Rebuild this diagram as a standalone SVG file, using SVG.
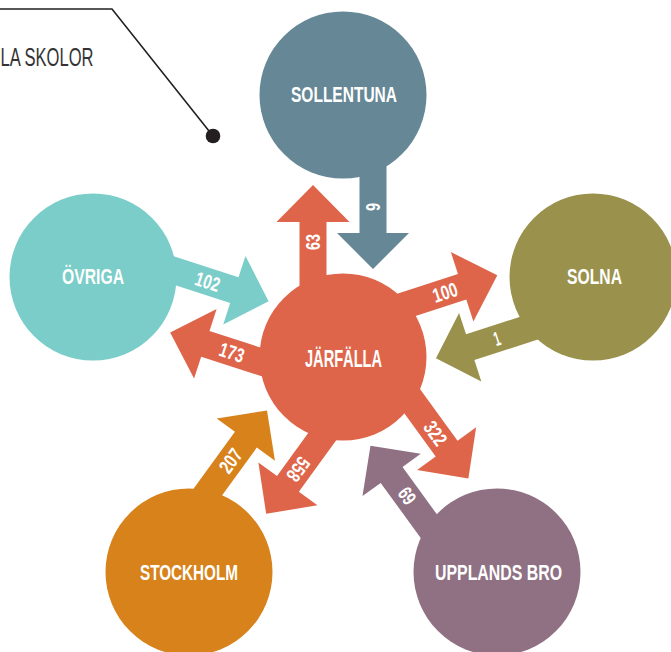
<svg xmlns="http://www.w3.org/2000/svg" xmlns:xlink="http://www.w3.org/1999/xlink" width="671" height="652" viewBox="0 0 671 652">
<style>
.lbl{font-family:"Liberation Sans",Arial,sans-serif;font-weight:bold;fill:#fff}
.node{font-size:22px}
.num{font-size:20px}
.note{font-family:"Liberation Sans",Arial,sans-serif;font-size:26px;fill:#333}
.j{fill:#de654a}
.sol{fill:#658796}
.ovr{fill:#7acdc8}
.sna{fill:#9a914c}
.sto{fill:#d7821b}
.upp{fill:#907183}
</style>
<defs>
<path id="out" d="M0,-43.5 H135 V-66.5 L172,-30 L135,6.5 V-16.5 H0 Z"/>
<path id="in" d="M88,30 L124,-6 V16.5 H235 V43.5 H124 V66 Z"/>
</defs>
<g id="note">
<polyline points="0,9 112,9 213,136" fill="none" stroke="#231f20" stroke-width="1.6"/>
<circle cx="213" cy="136" r="7.3" fill="#231f20"/>
<text class="note" x="0.5" y="66" textLength="93" lengthAdjust="spacingAndGlyphs">LA SKOLOR</text>
</g>
<g id="connectors">
<g transform="translate(343 357) rotate(-90)"><use xlink:href="#in" class="sol"/><use xlink:href="#out" class="j"/></g>
<g transform="translate(343 357) rotate(-18)"><use xlink:href="#in" class="sna"/><use xlink:href="#out" class="j"/></g>
<g transform="translate(343 357) rotate(-162)"><use xlink:href="#in" class="ovr"/><use xlink:href="#out" class="j"/></g>
<g transform="translate(343 357) rotate(126)"><use xlink:href="#in" class="sto"/><use xlink:href="#out" class="j"/></g>
<g transform="translate(343 357) rotate(54)"><use xlink:href="#in" class="upp"/><use xlink:href="#out" class="j"/></g>
<g class="lbl num">
<text transform="translate(313 242) rotate(-90)" x="-8" y="7.1" textLength="16" lengthAdjust="spacingAndGlyphs">63</text>
<text transform="translate(373 207) rotate(90)" x="-4" y="7.1" textLength="8" lengthAdjust="spacingAndGlyphs">6</text>
<text transform="translate(445 292.3) rotate(-18)" x="-12.5" y="7.1" textLength="25" lengthAdjust="spacingAndGlyphs">100</text>
<text transform="translate(496.9 338.5) rotate(-18)" x="-3" y="7.1" textLength="6" lengthAdjust="spacingAndGlyphs">1</text>
<text transform="translate(231.9 352.4) rotate(18)" x="-12.5" y="7.1" textLength="25" lengthAdjust="spacingAndGlyphs">173</text>
<text transform="translate(207.7 281.5) rotate(18)" x="-12.5" y="7.1" textLength="25" lengthAdjust="spacingAndGlyphs">102</text>
<text transform="translate(298.5 469.3) rotate(126)" x="-12.5" y="7.1" textLength="25" lengthAdjust="spacingAndGlyphs">558</text>
<text transform="translate(230.5 460.8) rotate(-54)" x="-12.5" y="7.1" textLength="25" lengthAdjust="spacingAndGlyphs">207</text>
<text transform="translate(435.5 433.2) rotate(54)" x="-12.5" y="7.1" textLength="25" lengthAdjust="spacingAndGlyphs">322</text>
<text transform="translate(406.9 496) rotate(-126)" x="-8" y="7.1" textLength="16" lengthAdjust="spacingAndGlyphs">69</text>
</g>
</g>
<g id="sollentuna"><circle cx="343" cy="95" r="83.5" class="sol"/><text class="lbl node" x="291" y="102" textLength="106" lengthAdjust="spacingAndGlyphs">SOLLENTUNA</text></g>
<g id="ovriga"><circle cx="93" cy="277" r="83.5" class="ovr"/><text class="lbl node" x="62" y="284" textLength="62" lengthAdjust="spacingAndGlyphs">ÖVRIGA</text></g>
<g id="solna"><circle cx="593" cy="277" r="83.5" class="sna"/><text class="lbl node" x="567" y="284" textLength="55" lengthAdjust="spacingAndGlyphs">SOLNA</text></g>
<g id="stockholm"><circle cx="189" cy="572" r="83.5" class="sto"/><text class="lbl node" x="140" y="580" textLength="98" lengthAdjust="spacingAndGlyphs">STOCKHOLM</text></g>
<g id="upplandsbro"><circle cx="497" cy="572" r="83.5" class="upp"/><text class="lbl node" x="435" y="580" textLength="127" lengthAdjust="spacingAndGlyphs">UPPLANDS BRO</text></g>
<g id="jarfalla"><circle cx="343" cy="357" r="83.5" class="j"/><text class="lbl" style="font-size:23px" x="305" y="366.5" textLength="77" lengthAdjust="spacingAndGlyphs">JÄRFÄLLA</text></g>
</svg>
